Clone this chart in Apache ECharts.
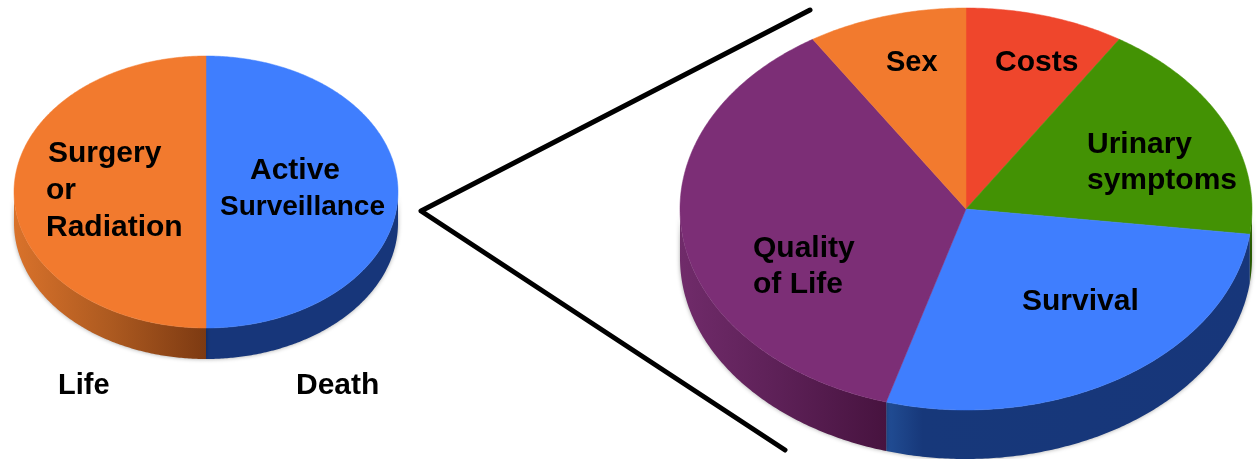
<!DOCTYPE html>
<html>
<head>
<meta charset="utf-8">
<style>html,body{margin:0;padding:0;background:#fff}#c{width:1257px;height:459px;filter:blur(0.55px)}</style>
<script src="https://cdn.jsdelivr.net/npm/echarts@6/dist/echarts.min.js"></script>
</head>
<body>
<div id="c"></div>
<script>
// Data
const leftCategories = ['Active Surveillance', 'Surgery or Radiation'];
const leftValues = [50, 50];
const rightCategories = ['Costs', 'Urinary symptoms', 'Survival', 'Quality of Life', 'Sex'];
const rightValues = [9, 18, 27.5, 36.5, 9];

// Styles
const leftColors = ['#3f7efe', '#f27a2e'];
const leftWalls = [
  [[0, '#17367a'], [1, '#17367a']],
  [[0, '#d9722b'], [0.5, '#ad5a20'], [1, '#7d3a12']]
];
const rightColors = ['#ef462c', '#439204', '#3f7efe', '#7c2e76', '#f27a2e'];
const rightWalls = [
  [[0, '#a5301d'], [1, '#a5301d']],
  [[0, '#2d6403'], [1, '#2d6403']],
  [[0, '#214d94'], [0.1, '#17387a'], [1, '#17367a']],
  [[0, '#702b6a'], [0.5, '#5c2056'], [1, '#47133f']],
  [[0, '#a5551f'], [1, '#a5551f']]
];

// Layout
const leftPie = {cx: 206, cy: 192, rx: 192, ry: 136, depth: 31};
const rightPie = {cx: 966, cy: 209, rx: 286, ry: 201, depth: 49};
const connector = [[810, 10], [421, 211], [785, 450]];
const labelTexts = ['Surgery', 'or', 'Radiation', 'Active', 'Surveillance', 'Life', 'Death',
  'Sex', 'Costs', 'Urinary', 'symptoms', 'Quality', 'of Life', 'Survival'];
const labelSizes = [30, 30, 30, 30, 28, 29, 30, 29, 30, 30, 30, 30, 30, 30];
const labelAnchors = [[48, 154], [46, 191], [46, 228], [250, 171], [220, 207], [58, 386], [296, 386],
  [886, 63], [995, 63], [1087, 145], [1087, 181], [753, 249], [753, 285], [1022, 302]];

function pieSeries(values, colors, walls, geo) {
  const total = values.reduce((a, b) => a + b, 0);
  const starts = [];
  values.reduce((acc, v, i) => (starts[i] = acc, acc + v), 0);
  return {
    type: 'custom',
    coordinateSystem: 'cartesian2d',
    silent: true,
    clip: false,
    animation: false,
    data: values.map((v, i) => [i, v]),
    renderItem(params, api) {
      const i = api.value(0);
      const a0 = starts[i] / total * Math.PI * 2;
      const a1 = a0 + api.value(1) / total * Math.PI * 2;
      const c = api.coord([geo.cx, geo.cy]);
      const size = api.size([geo.rx, geo.ry]);
      const rx = size[0], ry = size[1];
      const dep = api.size([0, geo.depth])[1];
      const pt = (t, dy) => [c[0] + rx * Math.sin(t), c[1] - ry * Math.cos(t) + dy];
      const arc = (s, e, dy) => {
        const n = Math.max(2, Math.ceil((e - s) / 0.01));
        const out = [];
        for (let k = 0; k <= n; k++) out.push(pt(s + (e - s) * k / n, dy));
        return out;
      };
      const children = [];
      const ws = Math.max(a0, Math.PI / 2), we = Math.min(a1, Math.PI * 1.5);
      if (we > ws) {
        const upper = arc(ws, we, 0);
        const lower = arc(ws, we, dep).reverse();
        const stops = walls[i].map(s => ({offset: s[0], color: s[1]}));
        children.push({
          type: 'polygon', z2: 1,
          shape: {points: upper.concat(lower)},
          style: {
            fill: new echarts.graphic.LinearGradient(0, 0, 1, 0, stops),
            shadowBlur: 4, shadowColor: 'rgba(0,0,0,0.35)'
          }
        });
      }
      children.push({
        type: 'polygon', z2: 2,
        shape: {points: [[c[0], c[1]]].concat(arc(a0, a1, 0))},
        style: {fill: colors[i], stroke: colors[i], lineWidth: 0.5}
      });
      return {type: 'group', children};
    }
  };
}

const chart = echarts.init(document.getElementById('c'), null, {renderer: 'canvas'});
chart.setOption({
  animation: false,
  backgroundColor: '#fff',
  grid: {left: 0, right: 0, top: 0, bottom: 0},
  xAxis: {type: 'value', min: 0, max: 1257, show: false},
  yAxis: {type: 'value', min: 0, max: 459, inverse: true, show: false},
  series: [
    pieSeries(leftValues, leftColors, leftWalls, leftPie),
    pieSeries(rightValues, rightColors, rightWalls, rightPie),
    {
      type: 'line', data: connector, symbol: 'none', silent: true, clip: false, z: 1,
      lineStyle: {color: '#000', width: 5, cap: 'round', join: 'round'}
    },
    {
      type: 'custom', coordinateSystem: 'cartesian2d', silent: true, clip: false, z: 5,
      data: labelTexts.map((t, i) => [i]),
      renderItem(params, api) {
        const i = api.value(0);
        const p = api.coord(labelAnchors[i]);
        return {
          type: 'text', z2: 10,
          style: {
            x: p[0], y: p[1], text: labelTexts[i], fill: '#000',
            font: 'bold ' + labelSizes[i] + 'px "Liberation Sans", Arial, sans-serif',
            textAlign: 'left', textVerticalAlign: 'middle'
          }
        };
      }
    }
  ]
});
</script>
</body>
</html>
